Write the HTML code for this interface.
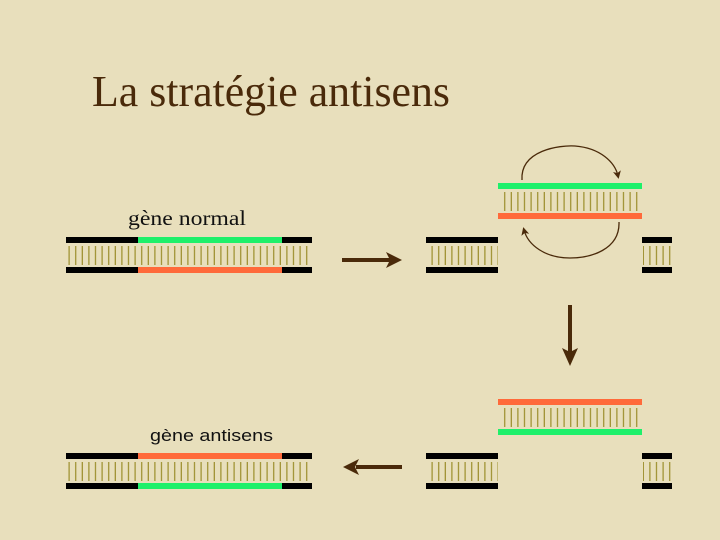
<!DOCTYPE html>
<html><head><meta charset="utf-8"><style>
html,body{margin:0;padding:0;}
body{width:720px;height:540px;background:#e8dfbc;overflow:hidden;position:relative;}
</style></head><body>
<svg width="720" height="540" viewBox="0 0 720 540" xmlns="http://www.w3.org/2000/svg" style="position:absolute;left:0;top:0">
<defs>
<pattern id="t" x="0" y="0" width="6.6" height="10" patternUnits="userSpaceOnUse">
<rect x="2.5" y="0" width="1.2" height="10" fill="#9a8d2a"/>
</pattern>
<marker id="ah" markerWidth="8" markerHeight="8" refX="5" refY="4" orient="auto" markerUnits="userSpaceOnUse">
<path d="M0,0 L8,4 L0,8 L2,4 Z" fill="#4a2a0a"/>
</marker>
</defs>
<rect width="720" height="540" fill="#e8dfbc"/>
<text x="92" y="106" font-family="Liberation Serif, serif" font-size="44" fill="#4a2a0a" textLength="358" lengthAdjust="spacingAndGlyphs">La stratégie antisens</text>
<text x="128" y="225" font-family="Liberation Serif, serif" font-size="21" fill="#111" textLength="118" lengthAdjust="spacingAndGlyphs">gène normal</text>
<text x="150" y="441" font-family="Liberation Sans, sans-serif" font-size="17" fill="#111" textLength="123" lengthAdjust="spacingAndGlyphs">gène antisens</text>

<rect x="68" y="246" width="244" height="19" fill="url(#t)"/>
<rect x="66" y="237" width="246" height="6" fill="#000"/>
<rect x="138" y="237" width="144" height="6" fill="#1ef06a"/>
<rect x="66" y="267" width="246" height="6" fill="#000"/>
<rect x="138" y="267" width="144" height="6" fill="#ff6a3a"/>

<rect x="428" y="246" width="70" height="19" fill="url(#t)"/>
<rect x="426" y="237" width="72" height="6" fill="#000"/>
<rect x="426" y="267" width="72" height="6" fill="#000"/>
<rect x="643" y="246" width="29" height="19" fill="url(#t)"/>
<rect x="642" y="237" width="30" height="6" fill="#000"/>
<rect x="642" y="267" width="30" height="6" fill="#000"/>

<rect x="500" y="192" width="142" height="19" fill="url(#t)"/>
<rect x="498" y="183" width="144" height="6" fill="#1ef06a"/>
<rect x="498" y="213" width="144" height="6" fill="#ff6a3a"/>
<path d="M522,180 C520,150 560,145 575,146 C600,148 615,162 618,176" fill="none" stroke="#4a2a0a" stroke-width="1.3" marker-end="url(#ah)"/>
<path d="M619,222 C620,250 590,258 570,258 C545,258 528,245 524,230" fill="none" stroke="#4a2a0a" stroke-width="1.3" marker-end="url(#ah)"/>

<line x1="342" y1="260" x2="390" y2="260" stroke="#4a2a0a" stroke-width="4"/>
<path d="M402,260 L386,252 L390,260 L386,268 Z" fill="#4a2a0a"/>
<line x1="570" y1="305" x2="570" y2="352" stroke="#4a2a0a" stroke-width="4"/>
<path d="M570,366 L562,348 L570,352 L578,348 Z" fill="#4a2a0a"/>
<line x1="402" y1="467" x2="356" y2="467" stroke="#4a2a0a" stroke-width="4"/>
<path d="M343,467 L359,459 L355,467 L359,475 Z" fill="#4a2a0a"/>

<rect x="500" y="408" width="142" height="19" fill="url(#t)"/>
<rect x="498" y="399" width="144" height="6" fill="#ff6a3a"/>
<rect x="498" y="429" width="144" height="6" fill="#1ef06a"/>
<rect x="428" y="462" width="70" height="19" fill="url(#t)"/>
<rect x="426" y="453" width="72" height="6" fill="#000"/>
<rect x="426" y="483" width="72" height="6" fill="#000"/>
<rect x="643" y="462" width="29" height="19" fill="url(#t)"/>
<rect x="642" y="453" width="30" height="6" fill="#000"/>
<rect x="642" y="483" width="30" height="6" fill="#000"/>

<rect x="68" y="462" width="244" height="19" fill="url(#t)"/>
<rect x="66" y="453" width="246" height="6" fill="#000"/>
<rect x="138" y="453" width="144" height="6" fill="#ff6a3a"/>
<rect x="66" y="483" width="246" height="6" fill="#000"/>
<rect x="138" y="483" width="144" height="6" fill="#1ef06a"/>
</svg>
</body></html>
